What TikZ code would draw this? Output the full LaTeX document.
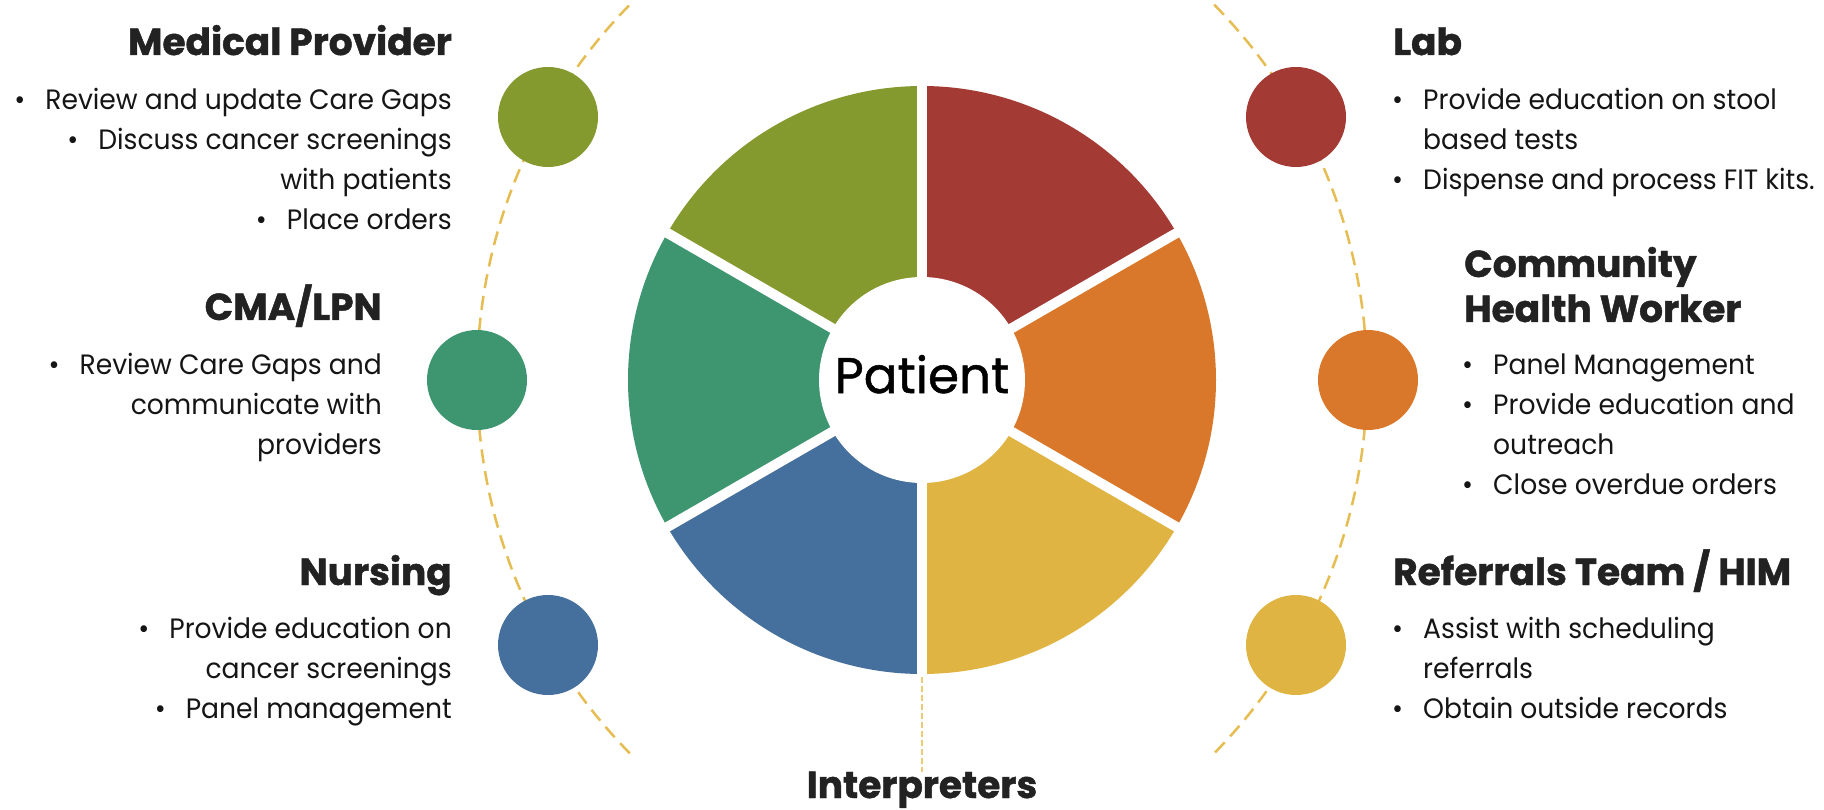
\documentclass[tikz,border=0pt]{standalone}
\usepackage{fontspec}
\setmainfont{Poppins}
\newfontfamily\bodyfont[FakeStretch=0.95]{Poppins}
\newfontfamily\patfont[FakeBold=1]{Poppins}
\newfontfamily\headfont[FakeBold=1.2]{Poppins}
\definecolor{cgreen}{HTML}{849A2F}
\definecolor{cred}{HTML}{A33A34}
\definecolor{corange}{HTML}{D9782B}
\definecolor{cyellow}{HTML}{E0B442}
\definecolor{cblue}{HTML}{456F9C}
\definecolor{cteal}{HTML}{3E9670}
\definecolor{dashc}{HTML}{E6BD52}
\definecolor{vlinec}{HTML}{EBCB78}
\definecolor{headc}{HTML}{222222}
\definecolor{bodyc}{HTML}{151515}
\newcommand\bul{\makebox[31pt][l]{•}}
\begin{document}
\begin{tikzpicture}[x=1pt,y=-1pt,
  head/.style={font=\headfont\bfseries\fontsize{37.5}{42}\selectfont, text=headc, inner sep=0pt},
  body/.style={font=\bodyfont\fontsize{28}{34}\selectfont, text=bodyc, inner sep=0pt},
  dot/.style={circle, minimum size=100pt, inner sep=0pt},
  dasharc/.style={draw=dashc, line width=2.5pt, dash pattern=on 14pt off 8pt},
  gapline/.style={draw=white, line width=10pt},
]
\useasboundingbox[fill=white] (0,0) rectangle (1824,810);

% dashed arcs
\draw[dasharc] (1012,379) ++(135.6:535) arc[start angle=135.6, end angle=224.4, radius=535];
\draw[dasharc] (832,379) ++(-44.4:535) arc[start angle=-44.4, end angle=44.4, radius=535];

% pie
\coordinate (c) at (922,380);
\fill[cred]    (c) -- ++(-90:294) arc[start angle=-90, end angle=-30, radius=294] -- cycle;
\fill[corange] (c) -- ++(-30:294) arc[start angle=-30, end angle=30, radius=294] -- cycle;
\fill[cyellow] (c) -- ++(30:294) arc[start angle=30, end angle=90, radius=294] -- cycle;
\fill[cblue]   (c) -- ++(90:294) arc[start angle=90, end angle=150, radius=294] -- cycle;
\fill[cteal]   (c) -- ++(150:294) arc[start angle=150, end angle=210, radius=294] -- cycle;
\fill[cgreen]  (c) -- ++(210:294) arc[start angle=210, end angle=270, radius=294] -- cycle;
\foreach \a in {30,90,150,210,270,330} \draw[gapline] (c) -- ++(\a:300);
\node[circle, fill=white, minimum size=206pt, inner sep=0pt] (patient) at (c) {};
\node[font=\patfont\fontsize{50}{58}\selectfont, text=black, inner sep=0pt, anchor=base] (ptxt) at (922,393) {Patient};

% small circles
\node[dot, fill=cgreen]  (dgreen)  at (548,117) {};
\node[dot, fill=cteal]   (dteal)   at (477,380) {};
\node[dot, fill=cblue]   (dblue)   at (548,645) {};
\node[dot, fill=cred]    (dred)    at (1296,117) {};
\node[dot, fill=corange] (dorange) at (1368,380) {};
\node[dot, fill=cyellow] (dyellow) at (1296,645) {};

% Interpreters
\coordinate (pbot) at (922,677);
\node[head, anchor=base] (interp) at (922,798) {Interpreters};
\draw[draw=vlinec, line width=2pt, dash pattern=on 6pt off 3pt] (pbot) -- (922,772);

% left column
\node[head, anchor=base east] (mp)  at (452,55)  {Medical Provider};
\node[body, anchor=base east] (mp1) at (452,110) {\bul Review and update Care Gaps};
\node[body, anchor=base east] (mp2) at (452,150) {\bul Discuss cancer screenings};
\node[body, anchor=base east] (mp3) at (452,190) {with patients};
\node[body, anchor=base east] (mp4) at (452,230) {\bul Place orders};

\node[head, anchor=base east] (cma)  at (382,320) {CMA/LPN};
\node[body, anchor=base east] (cma1) at (382,374) {\bul Review Care Gaps and};
\node[body, anchor=base east] (cma2) at (382,414) {communicate with};
\node[body, anchor=base east] (cma3) at (382,454) {providers};

\node[head, anchor=base east] (nur)  at (452,585) {Nursing};
\node[body, anchor=base east] (nur1) at (452,638) {\bul Provide education on};
\node[body, anchor=base east] (nur2) at (452,678) {cancer screenings};
\node[body, anchor=base east] (nur3) at (452,718) {\bul Panel management};

% right column
\node[head, anchor=base west] (lab)  at (1393,55)  {Lab};
\node[body, anchor=base west] (lab1) at (1392,110) {\bul Provide education on stool};
\node[body, anchor=base west] (lab2) at (1423,150) {based tests};
\node[body, anchor=base west] (lab3) at (1392,190) {\bul Dispense and process FIT kits.};

\node[head, anchor=base west] (chw)  at (1464,277) {Community};
\node[head, anchor=base west] (chwb) at (1464,322) {Health Worker};
\node[body, anchor=base west] (chw1) at (1462,374) {\bul Panel Management};
\node[body, anchor=base west] (chw2) at (1462,414) {\bul Provide education and};
\node[body, anchor=base west] (chw3) at (1493,454) {outreach};
\node[body, anchor=base west] (chw4) at (1462,494) {\bul Close overdue orders};

\node[head, anchor=base west] (ref)  at (1393,585) {Referrals Team / HIM};
\node[body, anchor=base west] (ref1) at (1392,638) {\bul Assist with scheduling};
\node[body, anchor=base west] (ref2) at (1423,678) {referrals};
\node[body, anchor=base west] (ref3) at (1392,718) {\bul Obtain outside records};
\end{tikzpicture}
\end{document}
